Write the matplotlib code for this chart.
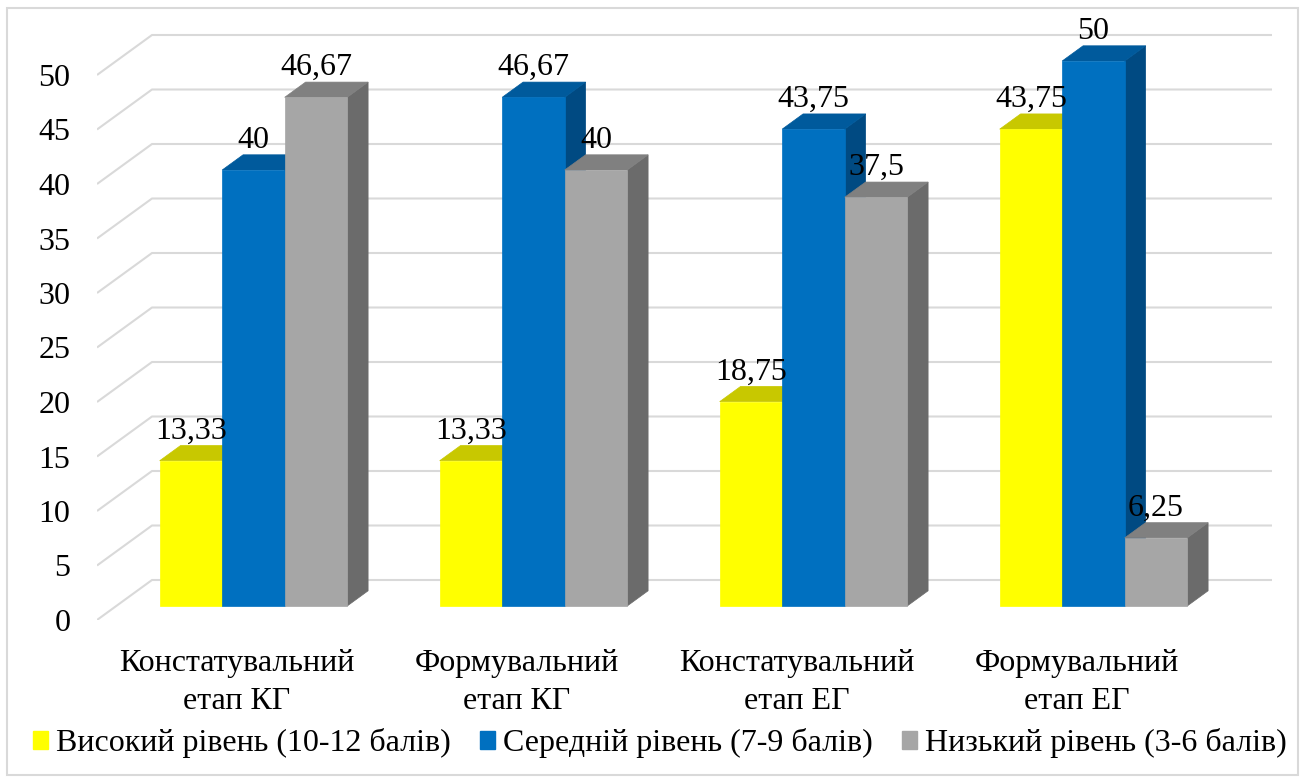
import numpy as np
import matplotlib
matplotlib.use("Agg")
import matplotlib.pyplot as plt
from matplotlib.patches import Polygon, Patch, Rectangle

# data
categories = ["Констатувальний\nетап КГ", "Формувальний\nетап КГ",
              "Констатувальний\nетап ЕГ", "Формувальний\nетап ЕГ"]
series_names = ["Високий рівень (10-12 балів)", "Середній рівень (7-9 балів)",
                "Низький рівень (3-6 балів)"]
high = [13.33, 13.33, 18.75, 43.75]
mid = [40, 46.67, 43.75, 50]
low = [46.67, 40, 37.5, 6.25]
yticks = [0, 5, 10, 15, 20, 25, 30, 35, 40, 45, 50]

# colours: front, top, side
colors = [("#FFFF00", "#C8C800", "#A8A800"),
          ("#0070C0", "#005A9C", "#004A82"),
          ("#A6A6A6", "#808080", "#6B6B6B")]
grid_col = "#D9D9D9"

plt.rcParams['font.family'] = ['Liberation Serif', 'DejaVu Serif']
fs = 23

W, H = 1304, 781
fig = plt.figure(figsize=(W / 100, H / 100), dpi=100)

# oblique projection of the depth axis
DX = 55 / 280
DY = 40 / 10.9
zf, zb = 0.35, 0.73
bw = 62.5 / 280

def proj(x, y, z):
    return (x + z * DX, y + z * DY)

ax = fig.add_axes([97 / W, (H - 620) / H, (W - 97) / W, 620 / H])
ax.set_xlim(0, (W - 97) / 280)
ax.set_ylim(0, 620 / 10.9)
for s in ax.spines.values():
    s.set_visible(False)

# walls gridlines
for v in yticks:
    a = proj(0, v, 0)
    b = proj(0, v, 1)
    c = proj(4, v, 1)
    ax.plot([a[0], b[0], c[0]], [a[1], b[1], c[1]], color=grid_col, lw=1.5,
            zorder=0, solid_capstyle='butt')

# bars
data = [high, mid, low]
z = 1
for i in range(len(categories)):
    for j, vals in enumerate(data):
        v = vals[i]
        x0 = i + 0.49 - 1.5 * bw + j * bw
        x1 = x0 + bw
        front = [proj(x0, 0, zf), proj(x1, 0, zf), proj(x1, v, zf), proj(x0, v, zf)]
        top = [proj(x0, v, zf), proj(x1, v, zf), proj(x1, v, zb), proj(x0, v, zb)]
        side = [proj(x1, 0, zf), proj(x1, 0, zb), proj(x1, v, zb), proj(x1, v, zf)]
        fc, tc, sc = colors[j]
        ax.add_patch(Polygon(side, closed=True, fc=sc, ec=sc, lw=0.5, zorder=z))
        ax.add_patch(Polygon(top, closed=True, fc=tc, ec=tc, lw=0.5, zorder=z + 1))
        ax.add_patch(Polygon(front, closed=True, fc=fc, ec=fc, lw=0.5, zorder=z + 2))
        z += 3
        ly = proj(x0, v, zb)[1]
        lx = proj((x0 + x1) / 2, v, zf)[0]
        lab = f"{v:g}".replace('.', ',')
        ax.text(lx, ly, lab, ha='center', va='bottom', fontsize=fs, zorder=100)

ax.set_yticks(yticks)
ax.set_yticklabels([str(t) for t in yticks], fontsize=fs)
ax.set_xticks([i + 0.5 for i in range(len(categories))])
ax.set_xticklabels(categories, fontsize=fs, linespacing=1.4)
ax.tick_params(axis='y', length=0, pad=19)
ax.tick_params(axis='x', length=0, pad=21)

handles = [Patch(fc=c[0], ec=c[0]) for c in colors]
fig.legend(handles, series_names, loc='center',
           bbox_to_anchor=(0.5 + 8 / W, 1 - 743 / H),
           ncol=3, frameon=False, fontsize=fs, handlelength=0.48, handleheight=0.48,
           handletextpad=0.25, columnspacing=0.9)

# outer border
fig.add_artist(Rectangle((7 / W, 1 - 775 / H), (1298 - 7) / W, (775 - 8) / H,
                         transform=fig.transFigure, fill=False, ec=grid_col, lw=1.5))

fig.savefig("out.png", dpi=100)
